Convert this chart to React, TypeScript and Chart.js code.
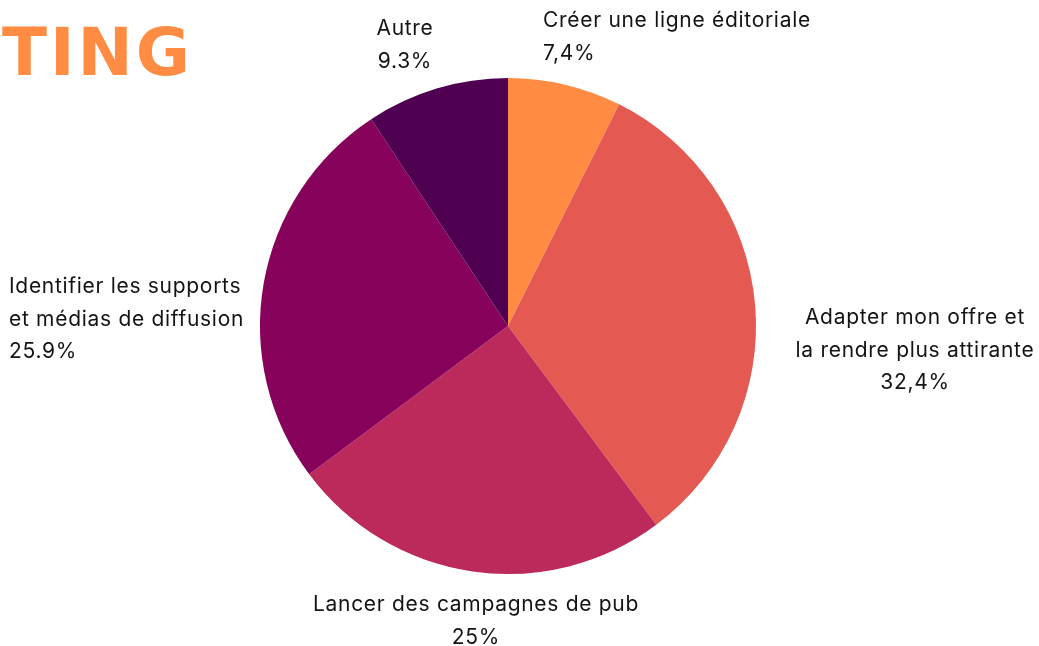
import React, { useEffect, useRef } from "react";
import { Chart, registerables } from "chart.js";

Chart.register(...registerables);

const categories = [
  "Créer une ligne éditoriale",
  "Adapter mon offre et la rendre plus attirante",
  "Lancer des campagnes de pub",
  "Identifier les supports et médias de diffusion",
  "Autre",
];
const values = [7.4, 32.4, 25, 25.9, 9.3];
const valueLabels = ["7,4%", "32,4%", "25%", "25.9%", "9.3%"];
const labelLines = [
  ["Créer une ligne éditoriale", "7,4%"],
  ["Adapter mon offre et", "la rendre plus attirante", "32,4%"],
  ["Lancer des campagnes de pub", "25%"],
  ["Identifier les supports", "et médias de diffusion", "25.9%"],
  ["Autre", "9.3%"],
];
const colors = ["#FF8C42", "#E45A53", "#BB2A5A", "#87035B", "#4F0050"];
const titleText = "TING";

// label placement (anchor x, first baseline y, alignment)
const labelLayout = [
  { x: 543, y: 27, align: "left" },
  { x: 915, y: 324, align: "center" },
  { x: 476, y: 611, align: "center" },
  { x: 9, y: 293, align: "left" },
  { x: 405, y: 35, align: "center" },
];

const labelPlugin = {
  id: "outerLabels",
  afterDraw(chart: any) {
    const ctx = chart.ctx;
    ctx.save();
    ctx.fillStyle = "#141414";
    ctx.font = "21px Inter, 'Noto Sans', sans-serif";
    (ctx as any).letterSpacing = "0.7px";
    ctx.textBaseline = "alphabetic";
    labelLines.forEach((lines, i) => {
      const l = labelLayout[i];
      ctx.textAlign = l.align;
      lines.forEach((t, j) => {
        ctx.fillText(t, l.x, l.y + j * 32.5);
      });
    });
    // title fragment
    ctx.fillStyle = "#FF8C42";
    ctx.font = "bold 66px 'DejaVu Sans', sans-serif";
    ctx.textAlign = "left";
    (ctx as any).letterSpacing = "3px";
    ctx.fillText(titleText, 2, 75);
    ctx.restore();
  },
};

export default function App() {
  const ref = useRef<HTMLCanvasElement>(null);
  useEffect(() => {
    const chart = new Chart(ref.current!, {
      type: "pie",
      data: {
        labels: categories,
        datasets: [
          {
            data: values,
            backgroundColor: colors,
            borderWidth: 0,
          },
        ],
      },
      options: {
        responsive: false,
        animation: false,
        layout: { padding: { left: 260, right: 283, top: 78, bottom: 72 } },
        plugins: {
          legend: { display: false },
          tooltip: { enabled: false },
        },
      },
      plugins: [labelPlugin],
    });
    return () => chart.destroy();
  }, []);
  return (
    <div style={{ position: "fixed", left: 0, top: 0, width: 1039, height: 646, background: "#fff" }}>
      <canvas ref={ref} width={1039} height={646} style={{ display: "block" }} />
    </div>
  );
}
